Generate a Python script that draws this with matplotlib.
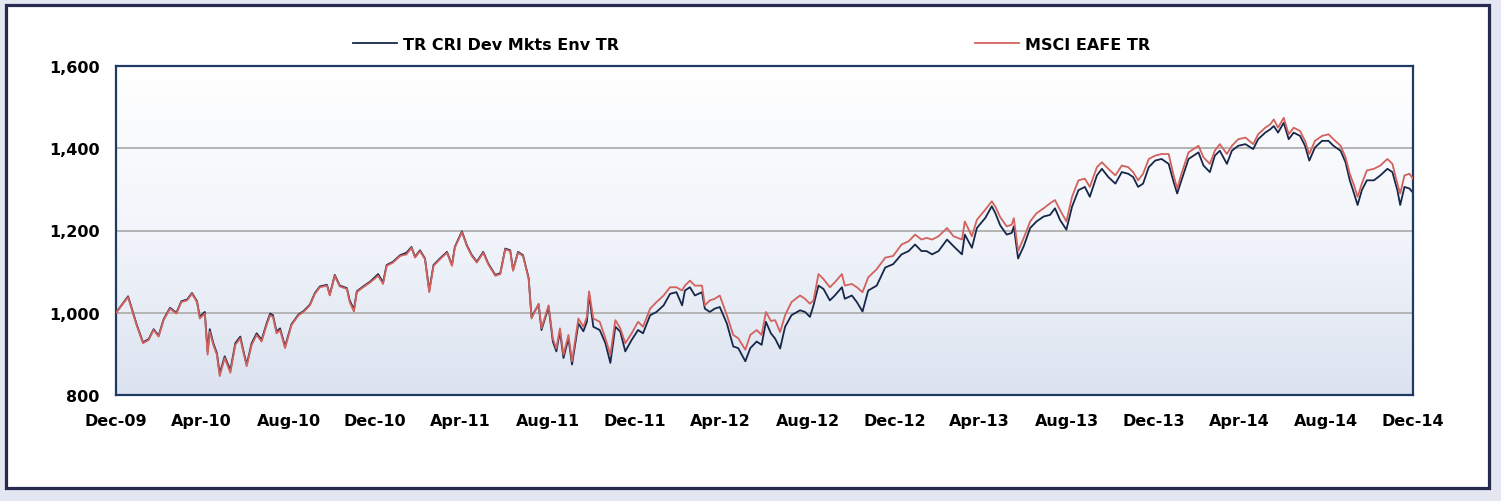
import numpy as np
import pandas as pd
import matplotlib.pyplot as plt
from matplotlib.patches import Rectangle
from matplotlib.colors import LinearSegmentedColormap

# Days since 31-Dec-2009 for each sampled point
days = [0, 17, 22, 29, 38, 46, 53, 60, 67, 76, 85, 92, 100, 107, 114, 118, 125, 129, 132, 137,
        142, 146, 153, 161, 168, 175, 179, 184, 191, 198, 205, 212, 217, 221, 226, 231, 238, 247, 257, 264,
        273, 280, 287, 297, 301, 308, 315, 325, 329, 335, 339, 348, 358, 369, 376, 381, 390, 400, 409, 416,
        421, 428, 435, 441, 447, 456, 466, 473, 477, 487, 494, 501, 508, 517, 524, 534, 541, 548, 555, 559,
        566, 573, 581, 585, 595, 599, 609, 615, 620, 625, 630, 637, 642, 651, 658, 663, 666, 672, 681, 689,
        696, 703, 710, 717, 726, 735, 742, 752, 761, 771, 780, 789, 797, 801, 808, 815, 825, 829, 836, 843,
        850, 860, 869, 876, 886, 893, 902, 909, 915, 922, 928, 935, 942, 951, 963, 970, 977, 982, 989, 996,
        1005, 1012, 1022, 1026, 1036, 1043, 1051, 1059, 1071, 1083, 1094, 1106, 1116, 1125, 1134, 1141, 1149, 1158, 1170, 1179,
        1191, 1195, 1205, 1212, 1224, 1233, 1238, 1245, 1254, 1261, 1264, 1270, 1278, 1287, 1296, 1306, 1315, 1322, 1329, 1338,
        1346, 1355, 1364, 1371, 1381, 1388, 1397, 1407, 1416, 1425, 1432, 1439, 1446, 1454, 1463, 1472, 1482, 1489, 1494, 1500,
        1510, 1517, 1524, 1531, 1540, 1547, 1554, 1564, 1571, 1580, 1590, 1601, 1608, 1618, 1625, 1630, 1636, 1644, 1651, 1658,
        1667, 1674, 1680, 1688, 1698, 1707, 1714, 1724, 1731, 1737, 1743, 1748, 1754, 1761, 1771, 1780, 1790, 1797, 1804, 1808,
        1814, 1821, 1826]

# MSCI EAFE TR (rebased to 1000)
msci = [1000, 1038, 1010, 970, 926, 934, 958, 942, 982, 1010, 998, 1026, 1030, 1046, 1026, 986, 998, 898, 954, 922,
        898, 846, 890, 854, 922, 938, 906, 870, 922, 946, 930, 970, 994, 990, 950, 958, 914, 970, 994, 1002,
        1018, 1046, 1062, 1066, 1042, 1090, 1064, 1058, 1026, 1003, 1050, 1062, 1074, 1090, 1070, 1114, 1122, 1138, 1142, 1158,
        1134, 1150, 1130, 1050, 1114, 1130, 1146, 1114, 1158, 1196, 1162, 1138, 1122, 1146, 1118, 1090, 1094, 1154, 1150, 1102,
        1146, 1138, 1082, 986, 1022, 962, 1018, 937, 913, 962, 898, 946, 882, 986, 966, 990, 1052, 986, 978, 938,
        898, 982, 962, 926, 950, 978, 966, 1010, 1026, 1042, 1062, 1062, 1054, 1066, 1078, 1066, 1066, 1018, 1030, 1034,
        1042, 994, 946, 938, 910, 946, 958, 946, 1002, 980, 982, 953, 994, 1026, 1042, 1034, 1022, 1030, 1094, 1082,
        1062, 1074, 1094, 1066, 1070, 1062, 1050, 1086, 1106, 1134, 1138, 1166, 1174, 1190, 1178, 1182, 1178, 1186, 1206, 1186,
        1178, 1222, 1186, 1226, 1251, 1271, 1258, 1232, 1210, 1214, 1230, 1150, 1182, 1222, 1242, 1254, 1266, 1274, 1250, 1222,
        1282, 1322, 1326, 1306, 1354, 1366, 1350, 1334, 1358, 1354, 1342, 1322, 1338, 1374, 1382, 1386, 1386, 1334, 1302, 1338,
        1390, 1398, 1406, 1378, 1362, 1394, 1410, 1386, 1406, 1422, 1426, 1410, 1434, 1450, 1458, 1470, 1450, 1474, 1434, 1450,
        1442, 1418, 1386, 1418, 1430, 1434, 1422, 1406, 1378, 1338, 1310, 1282, 1314, 1346, 1350, 1358, 1374, 1362, 1314, 1290,
        1334, 1338, 1326]

# TR CRI Dev Mkts Env TR (rebased to 1000)
trcri = [1000, 1040, 1012, 972, 928, 936, 960, 944, 984, 1012, 1000, 1028, 1032, 1048, 1028, 990, 1002, 905, 960, 926,
         902, 852, 894, 860, 926, 942, 910, 874, 926, 950, 934, 974, 998, 994, 954, 962, 918, 972, 996, 1004,
         1020, 1048, 1064, 1068, 1044, 1092, 1066, 1060, 1030, 1008, 1052, 1064, 1076, 1094, 1074, 1116, 1124, 1140, 1146, 1160,
         1136, 1152, 1132, 1054, 1116, 1132, 1148, 1116, 1160, 1198, 1164, 1140, 1124, 1148, 1120, 1092, 1096, 1156, 1152, 1104,
         1148, 1140, 1084, 990, 1020, 958, 1014, 930, 906, 955, 890, 938, 874, 974, 955, 978, 1046, 966, 958, 926,
         878, 966, 954, 906, 934, 958, 950, 994, 1002, 1018, 1046, 1050, 1018, 1054, 1062, 1042, 1050, 1010, 1002, 1010,
         1014, 974, 918, 914, 882, 914, 930, 922, 978, 950, 937, 913, 966, 994, 1006, 1002, 990, 1018, 1066, 1058,
         1030, 1042, 1062, 1034, 1042, 1026, 1003, 1054, 1066, 1110, 1118, 1142, 1150, 1166, 1150, 1150, 1142, 1150, 1178, 1162,
         1142, 1190, 1158, 1206, 1231, 1259, 1242, 1212, 1190, 1194, 1210, 1132, 1162, 1206, 1222, 1234, 1238, 1254, 1226, 1202,
         1258, 1298, 1306, 1282, 1334, 1350, 1330, 1314, 1342, 1338, 1330, 1306, 1314, 1354, 1370, 1374, 1362, 1318, 1290, 1322,
         1374, 1382, 1390, 1358, 1342, 1382, 1394, 1362, 1394, 1406, 1410, 1398, 1422, 1438, 1446, 1454, 1438, 1462, 1422, 1438,
         1430, 1406, 1370, 1402, 1418, 1418, 1406, 1394, 1366, 1322, 1290, 1262, 1298, 1322, 1322, 1334, 1350, 1342, 1298, 1262,
         1306, 1302, 1292]

start = pd.Timestamp('2009-12-31')
dates = start + pd.to_timedelta(days, unit='D')

# Axis ticks every four months, at month end
tick_dates = [start + pd.offsets.MonthEnd(4 * i) for i in range(16)]
tick_labels = [d.strftime('%b-%y') for d in tick_dates]
y_ticks = [800, 1000, 1200, 1400, 1600]

fig = plt.figure(figsize=(15.01, 5.02), dpi=100, facecolor='#e4e6f2')

# White panel with dark frame, kept behind the axes
fig.patches.append(Rectangle((5.5 / 1501, 1 - 489 / 502), 1483 / 1501, 483.5 / 502,
                             transform=fig.transFigure, facecolor='white',
                             edgecolor='#272a4f', linewidth=2.3, zorder=-10))

ax = fig.add_axes([116 / 1501, 1 - 396 / 502, 1297 / 1501, 329 / 502])
ax.patch.set_alpha(0)

# Gradient background of the plot area
grad = np.linspace(0, 1, 256).reshape(-1, 1)
cmap = LinearSegmentedColormap.from_list('bg', ['#ffffff', '#f2f5fa', '#dce3f0'])
ax.imshow(grad, cmap=cmap, aspect='auto', extent=[0, 1, 0, 1],
          transform=ax.transAxes, zorder=0, interpolation='bicubic')

for y in [1000, 1200, 1400]:
    ax.axhline(y, color='#b4b4b4', linewidth=1.4, zorder=1)

ax.plot(dates, trcri, color='#17274a', linewidth=1.3, label='TR CRI Dev Mkts Env TR', zorder=2)
ax.plot(dates, msci, color='#d2625d', linewidth=1.3, label='MSCI EAFE TR', zorder=3)

ax.set_xlim(tick_dates[0], tick_dates[-1])
ax.set_ylim(800, 1600)
ax.set_yticks(y_ticks)
ax.set_yticklabels([f'{v:,}' for v in y_ticks])
ax.set_xticks(tick_dates)
ax.set_xticklabels(tick_labels)
ax.tick_params(axis='both', length=0, labelsize=11.5)
ax.tick_params(axis='y', pad=12)
ax.tick_params(axis='x', pad=13)
for lbl in ax.get_xticklabels() + ax.get_yticklabels():
    lbl.set_fontweight('bold')

for s in ax.spines.values():
    s.set_color('#1f3a64')
    s.set_linewidth(1.6)

fig.legend(loc='center', bbox_to_anchor=(0.5007, 0.91), ncol=2, frameon=False,
           handlelength=2.75, handletextpad=0.35, columnspacing=22.3,
           prop={'weight': 'bold', 'size': 11.5})

fig.savefig('out.png', dpi=100, facecolor=fig.get_facecolor())
